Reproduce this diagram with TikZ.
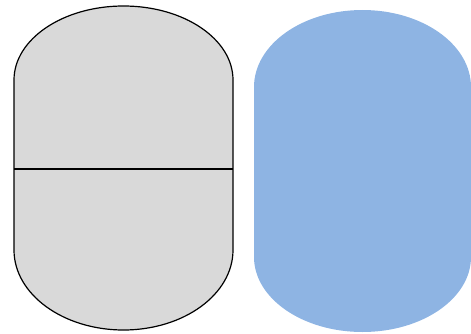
\documentclass[tikz,border=0pt]{standalone}
\begin{document}
\begin{tikzpicture}[x=1pt,y=1pt,
  grayshape/.style={fill={rgb,255:red,217;green,217;blue,217},draw=black,line width=1.2pt},
  blueshape/.style={fill={rgb,255:red,142;green,180;blue,227}}]
\useasboundingbox (0,0) rectangle (471,333);
% left gray capsule
\draw[grayshape] (14,83) -- (14,253)
  arc[start angle=180,end angle=0,x radius=109.5,y radius=74]
  -- (233,83)
  arc[start angle=0,end angle=-180,x radius=109.5,y radius=80] -- cycle;
\draw[line width=1.2pt] (14,164) -- (233,164);
% right blue capsule
\fill[blueshape] (254,76) -- (254,246)
  arc[start angle=180,end angle=0,x radius=108.5,y radius=77]
  -- (471,76)
  arc[start angle=0,end angle=-180,x radius=108.5,y radius=75] -- cycle;
\end{tikzpicture}
\end{document}
